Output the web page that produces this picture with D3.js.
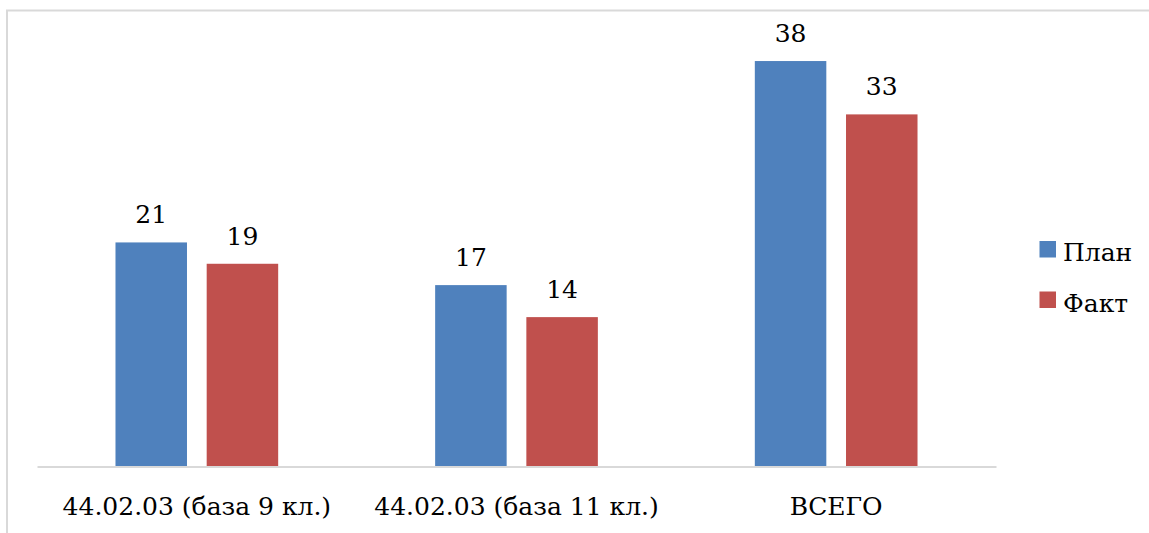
<!DOCTYPE html>
<html><head><meta charset="utf-8">
<script src="https://cdn.jsdelivr.net/npm/d3@7"></script>
<style>body{margin:0;background:#fff}svg{display:block}</style>
</head><body>
<svg id="c" width="1149" height="533"></svg>
<script>
const categories = ["44.02.03 (база 9 кл.)", "44.02.03 (база 11 кл.)", "ВСЕГО"];
const seriesNames = ["План", "Факт"];
const plan = [21, 17, 38];
const fact = [19, 14, 33];
const colors = ["#4F81BD", "#C0504D"];

(function(){
const FONT = "'DejaVu Serif', serif";
const FS = "25px";
const svg = d3.select("#c");
svg.append("rect").attr("x", 7).attr("y", 10.5).attr("width", 1200).attr("height", 600)
  .attr("fill", "none").attr("stroke", "#d9d9d9").attr("stroke-width", 2);

const pLeft = 37, pRight = 996, base = 466.5, pTop = 39.7;
const x = d3.scaleBand().domain(categories).range([pLeft, pRight]).paddingInner(0).paddingOuter(0);
const bw = x.bandwidth();
const barW = 71.5, gap = 19.7;
const xs = d3.scaleBand().domain(seriesNames)
  .range([(bw - 2*barW - gap)/2, (bw + 2*barW + gap)/2]).paddingInner(gap/(barW+gap)).paddingOuter(0);
const y = d3.scaleLinear().domain([0, 40]).range([base, pTop]);

const data = categories.map((c, i) => ({cat: c, vals: [plan[i], fact[i]]}));

const g = svg.append("g");
const groups = g.selectAll("g.grp").data(data).join("g").attr("class","grp").attr("transform", d => `translate(${x(d.cat)},0)`);
groups.selectAll("rect").data(d => d.vals.map((v, j) => ({v, s: seriesNames[j], j})))
  .join("rect")
  .attr("x", d => xs(d.s)).attr("width", xs.bandwidth())
  .attr("y", d => y(d.v)).attr("height", d => base - y(d.v))
  .attr("fill", d => colors[d.j]);
groups.selectAll("text.val").data(d => d.vals.map((v, j) => ({v, s: seriesNames[j], j})))
  .join("text").attr("class", "val")
  .attr("x", d => xs(d.s) + xs.bandwidth()/2).attr("y", d => y(d.v) - 19)
  .attr("text-anchor", "middle").style("font-size", FS).style("font-family", FONT).text(d => d.v);

const axis = d3.axisBottom(x).tickSize(0).tickPadding(0);
const ax = svg.append("g").attr("transform", `translate(0,${base})`).call(axis);
ax.select(".domain").attr("stroke", "#d9d9d9").attr("stroke-width", 2);
ax.selectAll("text").attr("dy", null).attr("y", 48.5).attr("fill", "#000")
  .style("font-size", FS).style("font-family", FONT);

const leg = svg.append("g");
const li = leg.selectAll("g").data(seriesNames).join("g")
  .attr("transform", (d, i) => `translate(1039.5,${241 + i*50.5})`);
li.append("rect").attr("width", 16.5).attr("height", 16.5).attr("fill", (d, i) => colors[i]);
li.append("text").attr("x", 23.5).attr("y", 20).style("font-size", FS).style("font-family", FONT).text(d => d);
})();
</script>
</body></html>
